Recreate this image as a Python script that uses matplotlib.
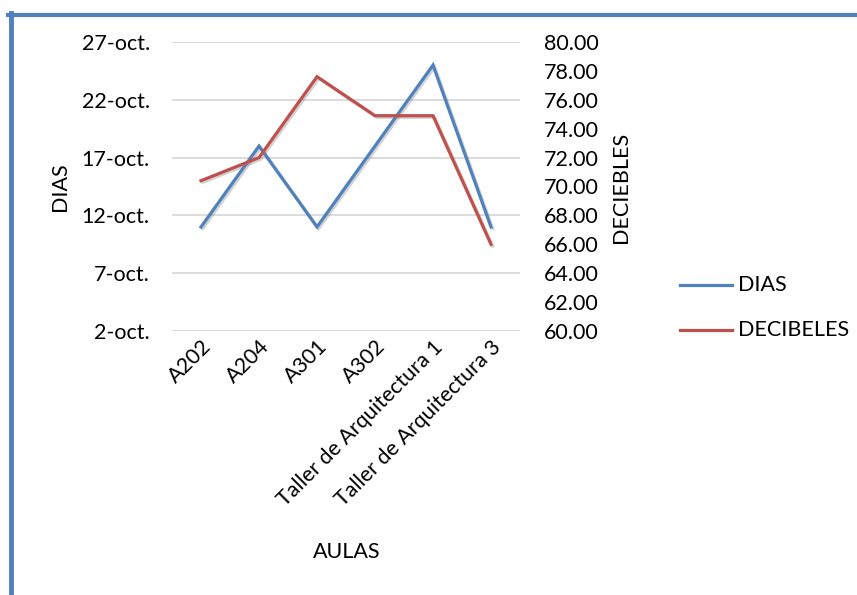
import matplotlib
matplotlib.use("Agg")
import matplotlib.pyplot as plt
from matplotlib.lines import Line2D
from matplotlib.ticker import FixedLocator, FuncFormatter
import matplotlib.patheffects as pe
import datetime as dt
import matplotlib.dates as mdates

plt.rcParams['font.family'] = ['Lato', 'DejaVu Sans']

aulas = ["A202", "A204", "A301", "A302", "Taller de Arquitectura 1", "Taller de Arquitectura 3"]
dias = [11, 18, 11, 18, 25, 11]          # day of October
decibeles = [70.4, 72.0, 77.6, 74.9, 74.9, 66.0]
dia_ticks = [2, 7, 12, 17, 22, 27]
db_ticks = [60, 62, 64, 66, 68, 70, 72, 74, 76, 78, 80]

BLUE = "#4F81BD"
RED = "#C0504D"
GRID = "#D9D9D9"
FS = 15.5

W, H = 857, 595
fig = plt.figure(figsize=(W / 100, H / 100), dpi=100)

def fx(px):
    return px / W

def fy(py):
    return 1 - py / H

ax = fig.add_axes([fx(172), fy(331), fx(520) - fx(172), fy(42) - fy(331)])
ax2 = ax.twinx()

fechas = [mdates.date2num(dt.date(2013, 10, d)) for d in dias]
x = list(range(len(aulas)))

shadow = [pe.SimpleLineShadow(offset=(1.2, -1.2), shadow_color="gray", alpha=0.35), pe.Normal()]
l1, = ax.plot(x, fechas, color=BLUE, lw=2.3, solid_joinstyle="miter", path_effects=shadow)
l2, = ax2.plot(x, decibeles, color=RED, lw=2.3, solid_joinstyle="miter", path_effects=shadow)

tick_nums = [mdates.date2num(dt.date(2013, 10, d)) for d in dia_ticks]
ax.set_ylim(tick_nums[0], tick_nums[-1])
ax.yaxis.set_major_locator(FixedLocator(tick_nums))
ax.yaxis.set_major_formatter(FuncFormatter(lambda v, p: f"{mdates.num2date(v).day}-oct."))
ax.grid(axis="y", color=GRID, lw=1.3)
ax.set_axisbelow(True)

ax2.set_ylim(db_ticks[0], db_ticks[-1])
ax2.set_yticks(db_ticks)
ax2.set_yticklabels([f"{v:.2f}" for v in db_ticks])

ax.set_xlim(-0.5, len(aulas) - 0.5)
ax.set_xticks(x)
ax.set_xticklabels(aulas, rotation=45, ha="right", va="top", rotation_mode="anchor")

for a in (ax, ax2):
    for s in a.spines.values():
        s.set_visible(False)
    a.tick_params(length=0, labelsize=FS, colors="black")

ax.tick_params(axis="y", pad=16)
ax.tick_params(axis="x", pad=4)
ax2.tick_params(axis="y", pad=17)

fig.text(fx(60), fy(187), "DIAS", rotation=90, ha="center", va="center", fontsize=FS)
fig.text(fx(621), fy(187), "DECIEBLES", rotation=90, ha="center", va="center", fontsize=FS)
fig.text(fx(347), fy(552), "AULAS", ha="center", va="center", fontsize=FS)

# legend drawn manually to the right of the plot
for py, col, lab in [(285, BLUE, "DIAS"), (330, RED, "DECIBELES")]:
    fig.add_artist(Line2D([fx(680), fx(732)], [fy(py), fy(py)], color=col, lw=2.3))
    fig.text(fx(738), fy(py), lab, ha="left", va="center", fontsize=FS)

# frame edges (left and top)
fig.add_artist(Line2D([fx(10.5), fx(10.5)], [fy(13), 0], color=BLUE, lw=3.5))
fig.add_artist(Line2D([fx(8), 1], [fy(15), fy(15)], color=BLUE, lw=3.0))

fig.savefig("out.png", dpi=100)
